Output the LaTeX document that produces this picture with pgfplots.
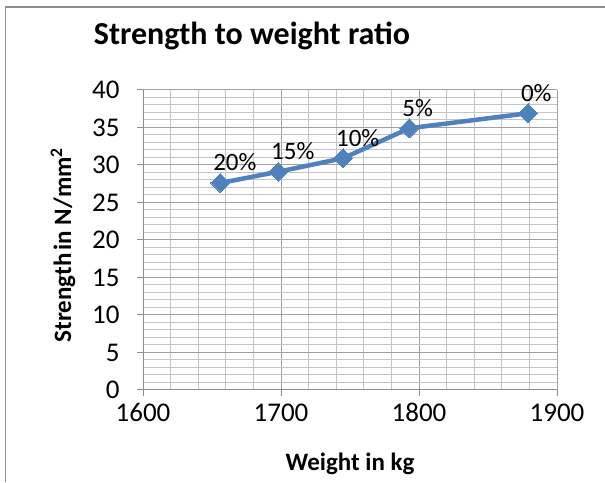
\documentclass[border=0pt]{standalone}
\usepackage{fontspec}
\setmainfont{Carlito}
\usepackage{pgfplots}
\pgfplotsset{compat=1.18}
\definecolor{serblue}{HTML}{4F81BD}
\definecolor{gridmaj}{HTML}{A0A0A0}
\definecolor{gridmin}{HTML}{C4C4C4}
\definecolor{frame}{HTML}{8C8C8C}
\begin{document}
\begin{tikzpicture}[x=1pt,y=1pt]
\useasboundingbox (0,0) rectangle (605,482);
\draw[color=frame, line width=1.5pt] (5.5,0) -- (5.5,475) -- (605,475);
\node[font=\fontsize{32}{38}\selectfont\bfseries, anchor=base] at (252,437) {Strength to weight ratio};
\begin{axis}[
  at={(143pt,92pt)}, anchor=south west,
  scale only axis, width=414pt, height=300pt,
  xmin=1600, xmax=1900, ymin=0, ymax=40,
  xtick={1600,1700,1800,1900}, ytick={0,5,...,40},
  minor x tick num=4, minor y tick num=4,
  grid=both,
  major grid style={draw=gridmaj, line width=1pt},
  minor grid style={draw=gridmin, line width=1pt},
  axis lines=left, axis line style={-, draw=frame, line width=1pt},
  tick align=outside, major tick length=6pt, minor tick length=0pt,
  tick style={draw=frame, line width=1pt},
  /pgf/number format/assume math mode=true,
  /pgf/number format/1000 sep={},
  ticklabel style={font=\fontsize{27}{32}\selectfont, text=black},
  xticklabel style={yshift=-4pt},
  yticklabel style={xshift=-14pt},
  clip=false,
]
\addplot[color=serblue, line width=4.5pt, mark=square*, mark size=6.7pt,
  mark options={fill=serblue, draw=serblue, line width=0pt, rotate=45},
  point meta=explicit,
  nodes near coords={\pgfmathprintnumber{\pgfplotspointmeta}\%},
  nodes near coords style={anchor=south west, xshift=-7pt, yshift=12pt, inner sep=0pt,
    font=\fontsize{25}{30}\selectfont, text=black}]
  table[x=x, y=y, meta=m] {
  x y m
  1656 27.6 20
  1698 29.1 15
  1745 30.9 10
  1793 34.9 5
  1879 36.9 0
  };
\end{axis}
\node[anchor=base, font=\fontsize{25}{30}\selectfont\bfseries] at (350,12) {Weight in kg};
\node[rotate=90, font=\fontsize{25}{30}\selectfont\bfseries] at (63,237) {Strength\hspace{0.12em}in N/mm\textsuperscript{2}};
\end{tikzpicture}
\end{document}
